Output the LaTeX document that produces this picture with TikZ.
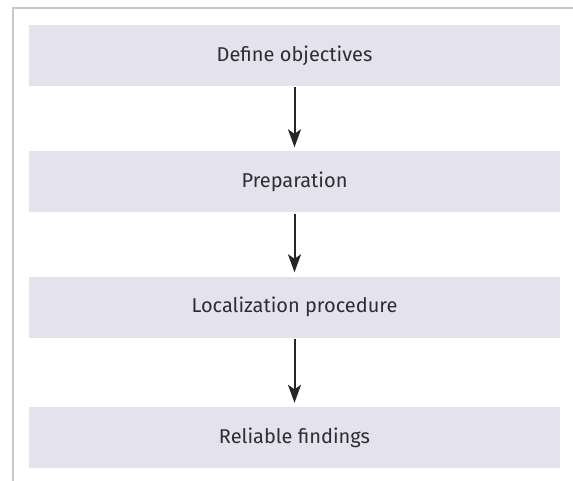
\documentclass[tikz,border=0pt]{standalone}
\usepackage{fontspec}
\setmainfont{Fira Sans}
\usetikzlibrary{arrows.meta}
\definecolor{boxfill}{RGB}{228,227,237}
\definecolor{txt}{RGB}{45,45,50}
\definecolor{frame}{RGB}{200,200,202}
\begin{document}
\begin{tikzpicture}[x=1pt,y=-1pt,
  stepbox/.style={fill=boxfill, draw=none, minimum width=531pt, minimum height=61pt, inner sep=0pt, font=\fontsize{20}{24}\selectfont, text=txt},
  flow/.style={line width=2pt, draw=black!85, -{Stealth[length=18pt,width=13pt,inset=4.5pt]}, shorten >=4pt, shorten <=1pt}]
\useasboundingbox (0,0) rectangle (573,481);
\fill[white] (0,0) rectangle (573,481);
\draw[frame, line width=2pt] (13,481) -- (13,8) -- (573,8);
\node[stepbox] (a) at (294.5,55.5) {Define objectives};
\node[stepbox] (b) at (294.5,182) {Preparation};
\node[stepbox] (c) at (294.5,307) {Localization procedure};
\node[stepbox] (d) at (294.5,437.5) {Reliable findings};
\draw[flow] (a.south) -- (b.north);
\draw[flow] (b.south) -- (c.north);
\draw[flow] (c.south) -- (d.north);
\end{tikzpicture}
\end{document}
